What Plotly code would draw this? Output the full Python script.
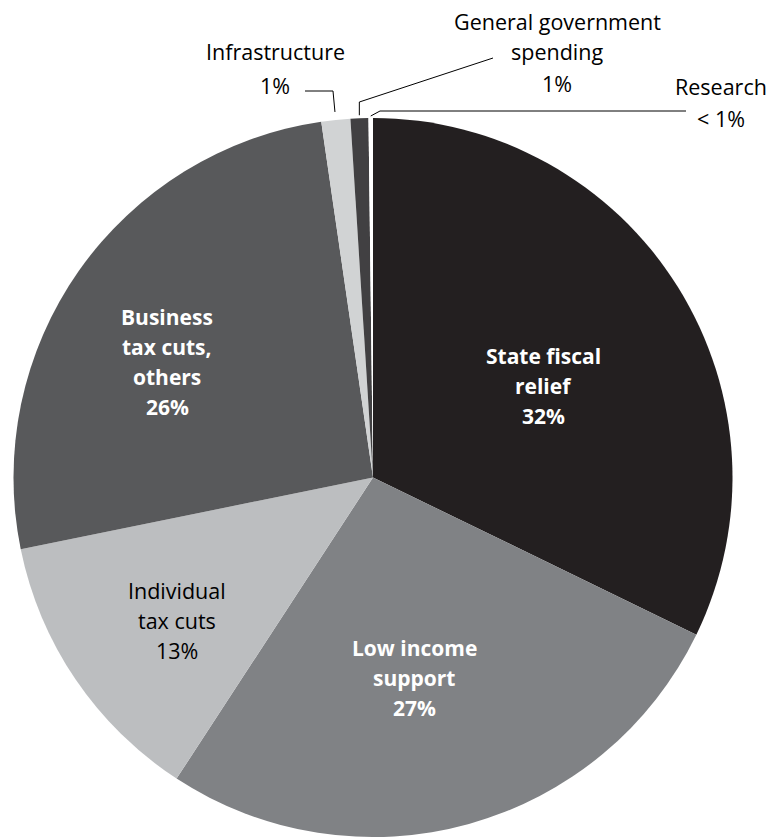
import math
import plotly.graph_objects as go

# Spending shares, clockwise from 12 o'clock
categories = [
    "State fiscal relief",
    "Low income support",
    "Individual tax cuts",
    "Business tax cuts, others",
    "Infrastructure",
    "General government spending",
    "Research",
]
shares = [32.2, 27.0, 12.6, 25.9, 1.3, 0.8, 0.2]
colors = ["#231f20", "#808285", "#bcbec0", "#58595b", "#d1d3d4", "#414042", "#ffffff"]

W, H = 778, 837
CX, CY, R = 373.0, 477.5, 359.5   # pie centre / radius in pixels

FONT = "Open Sans"
SIZE_REG = 21.5
SIZE_BOLD = 21


def px(x, y):
    """pixel -> paper coordinates"""
    return x / W, 1 - y / H


def edge_point(idx, extra):
    """Point just outside the rim at the middle of slice idx."""
    total = sum(shares)
    start = sum(shares[:idx]) / total * 360
    mid = start + shares[idx] / total * 360 / 2
    a = math.radians(mid)
    return CX + (R + extra) * math.sin(a), CY - (R + extra) * math.cos(a)


fig = go.Figure(
    go.Pie(
        labels=categories,
        values=shares,
        sort=False,
        direction="clockwise",
        rotation=0,
        marker=dict(colors=colors, line=dict(width=0)),
        textinfo="none",
        hoverinfo="label+percent",
        showlegend=False,
        domain=dict(x=[(CX - R) / W, (CX + R) / W], y=[0, 2 * R / H]),
    )
)

annotations = []


def label(lines, x, y, color, bold, spacing):
    n = len(lines)
    for i, t in enumerate(lines):
        yy = y + (i - (n - 1) / 2) * spacing
        xp, yp = px(x, yy)
        annotations.append(dict(
            x=xp, y=yp, xref="paper", yref="paper", showarrow=False,
            text=f"<b>{t}</b>" if bold else t,
            font=dict(family=FONT, size=SIZE_BOLD if bold else SIZE_REG, color=color),
            xanchor="center", yanchor="middle",
        ))


# labels inside slices
label(["State fiscal", "relief", "32%"], 543, 386, "white", True, 30)
label(["Low income", "support", "27%"], 414, 678, "white", True, 30)
label(["Individual", "tax cuts", "13%"], 177, 620, "black", False, 30)
label(["Business", "tax cuts,", "others", "26%"], 167, 362, "white", True, 30)

# labels outside the pie
label(["Infrastructure"], 275, 51, "black", False, 30)
label(["1%"], 275, 85, "black", False, 30)
label(["General government", "spending", "1%"], 557, 52, "black", False, 31)
label(["Research", "< 1%"], 721, 103, "black", False, 32)

fig.update_layout(annotations=annotations)

# leader lines
shapes = []


def polyline(points):
    for (x0, y0), (x1, y1) in zip(points[:-1], points[1:]):
        a0, b0 = px(x0, y0)
        a1, b1 = px(x1, y1)
        shapes.append(dict(type="line", xref="paper", yref="paper",
                           x0=a0, y0=b0, x1=a1, y1=b1,
                           line=dict(color="black", width=1)))


ix, iy = edge_point(4, 8)
polyline([(305, 91), (333, 91), (ix, iy)])
gx, gy = edge_point(5, 3)
polyline([(gx, gy), (gx, 102), (493, 58)])
rx, ry = edge_point(6, 2)
polyline([(rx, ry), (380, 111), (686, 111)])

fig.update_layout(
    shapes=shapes,
    width=W, height=H,
    margin=dict(l=0, r=0, t=0, b=0),
    paper_bgcolor="white", plot_bgcolor="white",
)

fig.write_html("out.html")
